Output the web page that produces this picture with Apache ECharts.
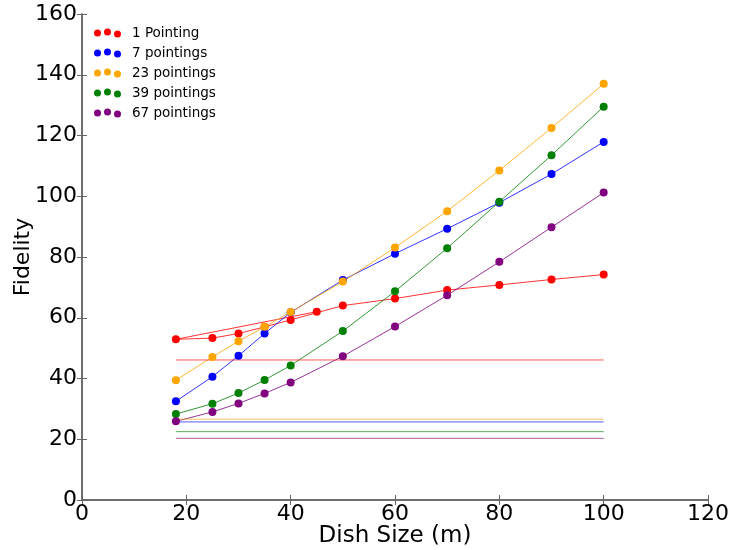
<!DOCTYPE html>
<html>
<head>
<meta charset="utf-8">
<script src="https://cdn.jsdelivr.net/npm/echarts@6/dist/echarts.min.js"></script>
<style>
  html, body { margin: 0; padding: 0; background: #fff; }
  #box { width: 729px; height: 550px; }
</style>
</head>
<body>
<div id="box"></div>
<script>
// dish sizes (m); the 1-pointing run starts at 45 then goes back to 18
const dishRed = [45, 18, 25, 30, 35, 40, 50, 60, 70, 80, 90, 100];
const dishSizes = [18, 25, 30, 35, 40, 50, 60, 70, 80, 90, 100];

const names = ["1 Pointing", "7 pointings", "23 pointings", "39 pointings", "67 pointings"];
const colors = ["#ff0000", "#0000ff", "#ffa500", "#008000", "#800080"];

const fid1 = [62.0, 52.9, 53.3, 54.8, 57.0, 59.3, 64.0, 66.3, 69.1, 70.8, 72.6, 74.2];
const fid7 = [32.5, 40.6, 47.5, 54.8, 61.8, 72.4, 81.1, 89.3, 97.9, 107.3, 117.9];
const fid23 = [39.4, 47.1, 52.3, 57.0, 61.9, 71.9, 83.1, 95.1, 108.5, 122.5, 137.0];
const fid39 = [28.3, 31.7, 35.2, 39.5, 44.3, 55.6, 68.7, 82.9, 98.2, 113.5, 129.5];
const fid67 = [25.9, 29.0, 31.8, 35.1, 38.7, 47.3, 57.1, 67.4, 78.4, 89.8, 101.2];

// flat reference levels, drawn from 18 to 100 m
const refLevels = [46.1, 25.7, 26.6, 22.5, 20.3];
const refRange = [18, 100];

const xTicks = [0, 20, 40, 60, 80, 100, 120];
const yTicks = [0, 20, 40, 60, 80, 100, 120, 140, 160];

// three dots, like a matplotlib scatter legend entry
const threeDots = "path://M0,5a3.5,3.5 0 1,0 7,0a3.5,3.5 0 1,0 -7,0z" +
  "M10,4a3.5,3.5 0 1,0 7,0a3.5,3.5 0 1,0 -7,0z" +
  "M20,6a3.5,3.5 0 1,0 7,0a3.5,3.5 0 1,0 -7,0z";

const font = "DejaVu Sans";
const pair = (xs, ys) => xs.map((x, i) => [x, ys[i]]);

const curves = [pair(dishRed, fid1), pair(dishSizes, fid7), pair(dishSizes, fid23),
  pair(dishSizes, fid39), pair(dishSizes, fid67)];

const series = [];
curves.forEach((data, i) => {
  series.push({
    name: names[i],
    type: "line",
    data: data,
    symbol: "circle",
    symbolSize: 8,
    itemStyle: { color: colors[i] },
    lineStyle: { color: colors[i], width: 1, opacity: 0.8 },
    animation: false,
  });
});
refLevels.forEach((v, i) => {
  series.push({
    type: "line",
    data: refRange.map((x) => [x, v]),
    symbol: "none",
    lineStyle: { color: colors[i], width: 1, opacity: 0.65 },
    silent: true,
    animation: false,
  });
});

const axisCommon = {
  type: "value",
  axisLine: { show: true, lineStyle: { color: "#666", width: 1.5 } },
  axisTick: { show: true, inside: true, length: 5, lineStyle: { color: "#666" } },
  splitLine: { show: false },
  interval: 20,
  min: 0,
};

var myChart = echarts.init(document.getElementById("box"));
myChart.setOption({
  textStyle: { fontFamily: font },
  grid: { left: 82, right: 21, top: 14, bottom: 50, outerBoundsMode: "none" },
  legend: {
    orient: "vertical",
    left: 94,
    top: 26,
    padding: 0,
    itemGap: 6,
    itemWidth: 27,
    itemHeight: 9,
    icon: threeDots,
    data: names,
    textStyle: { fontSize: 13.5, lineHeight: 14, fontFamily: font, color: "#000", padding: [0, 0, 0, 6] },
  },
  xAxis: [
    Object.assign({}, axisCommon, {
      max: xTicks[xTicks.length - 1],
      name: "Dish Size (m)",
      nameLocation: "middle",
      nameMoveOverlap: false,
      nameGap: 25,
      nameTextStyle: { fontSize: 23, fontFamily: font, color: "#000" },
      axisLabel: { fontSize: 22, color: "#000", margin: 3 },
    }),
    Object.assign({}, axisCommon, {
      position: "top",
      max: xTicks[xTicks.length - 1],
      axisLabel: { show: false },
    }),
  ],
  yAxis: [
    Object.assign({}, axisCommon, {
      max: yTicks[yTicks.length - 1],
      name: "Fidelity",
      nameLocation: "middle",
      nameMoveOverlap: false,
      nameGap: 48,
      nameTextStyle: { fontSize: 22, fontFamily: font, color: "#000" },
      axisLabel: { fontSize: 22, color: "#000", margin: 5 },
    }),
    Object.assign({}, axisCommon, {
      position: "right",
      max: yTicks[yTicks.length - 1],
      axisLabel: { show: false },
    }),
  ],
  series: series,
});
</script>
</body>
</html>
